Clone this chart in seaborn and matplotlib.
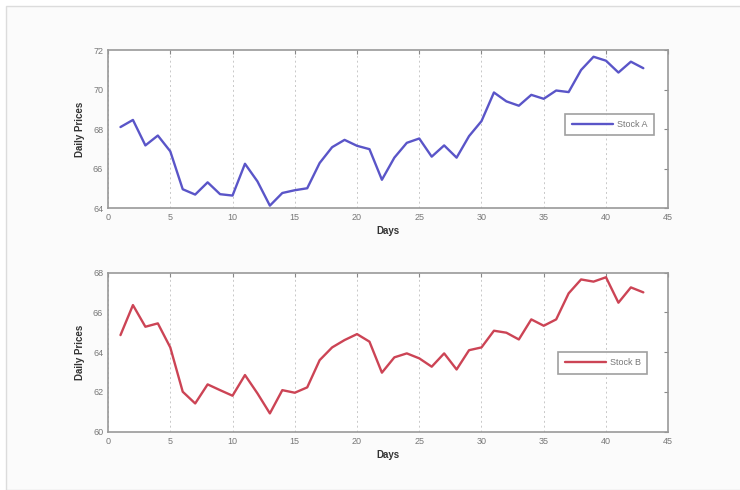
import matplotlib
matplotlib.use("Agg")
import matplotlib.pyplot as plt
import seaborn as sns
import pandas as pd
from matplotlib.patches import Rectangle

days = list(range(1, 44))
stock_a = [68.1, 68.46, 67.17, 67.67, 66.87, 64.95, 64.68, 65.3, 64.7, 64.63,
           66.24, 65.35, 64.12, 64.76, 64.9, 65.0, 66.28, 67.08, 67.45, 67.15,
           66.98, 65.43, 66.55, 67.3, 67.52, 66.6, 67.17, 66.55, 67.64, 68.4,
           69.85, 69.4, 69.18, 69.73, 69.53, 69.95, 69.87, 70.99, 71.66, 71.46,
           70.86, 71.41, 71.08]
stock_b = [64.86, 66.37, 65.28, 65.45, 64.24, 62.01, 61.42, 62.38, 62.09, 61.81,
           62.85, 61.93, 60.92, 62.09, 61.96, 62.23, 63.6, 64.24, 64.61, 64.91,
           64.53, 62.97, 63.74, 63.94, 63.69, 63.27, 63.94, 63.13, 64.1, 64.24,
           65.08, 64.98, 64.64, 65.65, 65.33, 65.65, 66.96, 67.66, 67.55, 67.77,
           66.49, 67.26, 67.01]
x_ticks = [0, 5, 10, 15, 20, 25, 30, 35, 40, 45]
yticks_a = [64, 66, 68, 70, 72]
yticks_b = [60, 62, 64, 66, 68]

sns.set_style("white")
plt.rcParams['font.family'] = ['Liberation Sans', 'DejaVu Sans']

fig = plt.figure(figsize=(7.4, 4.9), dpi=100)
fig.patch.set_facecolor("white")
fig.patches.append(Rectangle((6/740, 0), 1, 1 - 6/490, transform=fig.transFigure,
                             facecolor="#fbfbfb", edgecolor="#dcdcdc", lw=1.0, zorder=-10))

df = pd.DataFrame({"Days": days, "A": stock_a, "B": stock_b})

specs = [
    ("A", "Stock A", "#5a55c8", yticks_a, [0.146, 0.5755, 0.757, 0.3224], (0.895, 0.528)),
    ("B", "Stock B", "#cc4455", yticks_b, [0.146, 0.119, 0.757, 0.3245], (0.883, 0.432)),
]

for col, label, color, yt, pos, lc in specs:
    ax = fig.add_axes(pos)
    ax.set_facecolor("white")
    sns.lineplot(data=df, x="Days", y=col, ax=ax, color=color, lw=1.7, label=label)
    ax.set_xlim(0, 45)
    ax.set_ylim(yt[0], yt[-1])
    ax.set_xticks(x_ticks)
    ax.set_yticks(yt)
    ax.set_xticklabels([str(t) for t in x_ticks])
    ax.set_yticklabels([str(t) for t in yt])
    ax.tick_params(direction="in", length=3, width=0.8, colors="#888888",
                   labelsize=6.5, labelcolor="#777777", top=True, right=True)
    for s in ax.spines.values():
        s.set_color("#999999")
        s.set_linewidth(1.2)
    ax.xaxis.grid(True, linestyle=(0, (2, 3)), color="#c8c8c8", lw=0.7)
    ax.yaxis.grid(False)
    ax.set_xlabel("Days", fontsize=7, fontweight="bold", color="#333333", labelpad=3)
    ax.set_ylabel("Daily Prices", fontsize=7, fontweight="bold", color="#333333", labelpad=6)
    leg = ax.legend(loc="center", bbox_to_anchor=lc,
                    fontsize=6.5, frameon=True, fancybox=False, handlelength=4.6,
                    borderpad=0.7, handletextpad=0.4, borderaxespad=0,
                    labelcolor="#777777")
    leg.get_frame().set_edgecolor("#888888")
    leg.get_frame().set_linewidth(1.2)

fig.savefig("out.png", dpi=100)
